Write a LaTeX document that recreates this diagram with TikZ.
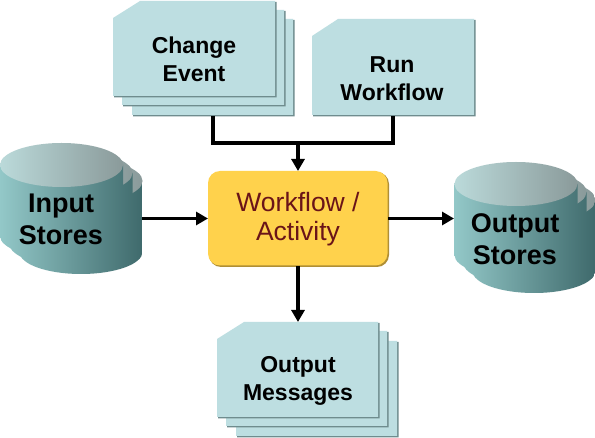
\documentclass[tikz,border=0pt]{standalone}
\usepackage{fontspec}
\setmainfont{Liberation Sans}
\usetikzlibrary{arrows.meta}
\definecolor{cardfill}{HTML}{BDDEE1}
\definecolor{cardedge}{HTML}{6F8C8E}
\definecolor{goldfill}{HTML}{FFD24C}
\definecolor{goldedge}{HTML}{B08F35}
\definecolor{wftext}{HTML}{6A1418}
\definecolor{cylA}{HTML}{93C8C8}
\definecolor{cylB}{HTML}{6FA6A6}
\definecolor{cylC}{HTML}{3F6A6C}
\definecolor{topA}{HTML}{BBDADA}
\definecolor{topB}{HTML}{A9C3C3}
\definecolor{topC}{HTML}{8A9A9A}
\tikzset{
  x=1pt,y=-1pt,
  cardshape/.style={fill=cardfill},
  cardshade/.style={fill=cardedge},
  frame/.style={inner sep=0pt,outer sep=0pt,draw=none},
  cardtext/.style={inner sep=0pt,align=center,text=black,font=\fontsize{23}{28.5}\selectfont\bfseries},
  storetext/.style={inner sep=0pt,align=center,text=black,font=\fontsize{27}{32}\selectfont\bfseries},
  wftextstyle/.style={inner sep=0pt,align=center,text=wftext,font=\fontsize{26.5}{29.5}\selectfont},
  link/.style={line width=3.4pt,draw=black},
  linkarrow/.style={link,-{Triangle[length=12pt,width=13pt]}},
}
% card: left, top, right, bottom, cut-x, cut-y
\newcommand{\drawcard}[6]{%
  \fill[cardshade] (#1+1,#2+#6+1) -- (#1+#5+1,#2+1) -- (#3+1.5,#2+1) -- (#3+1.5,#4+1.5) -- (#1+1,#4+1.5) -- cycle;
  \fill[cardshape] (#1,#2+#6) -- (#1+#5,#2) -- (#3,#2) -- (#3,#4) -- (#1,#4) -- cycle;
}
% cylinder: centre x, top centre y, bottom centre y, common shading xmin, xmax
\newcommand{\drawcyl}[5]{%
  \begin{scope}
    \clip (#1-61.5,#2) -- (#1-61.5,#3) arc[start angle=180,end angle=360,x radius=61.5,y radius=-22]
      -- (#1+61.5,#2) -- cycle;
    \path[left color=cylA,middle color=cylB,right color=cylC] (#4,#2-5) rectangle (#5,#3+30);
  \end{scope}
  \path[left color=topA,middle color=topB,right color=topC]
    (#1,#2) ellipse[x radius=61.5,y radius=22];
}
\begin{document}
\begin{tikzpicture}
\useasboundingbox (0,0) rectangle (595,438);
\fill[white] (0,0) rectangle (595,438);

% Change Event stack
\drawcard{132}{19}{293}{115}{27}{17}
\drawcard{122}{10}{284}{105}{27}{17}
\drawcard{113}{1}{275}{96}{27}{17}
\node[frame,minimum width=181pt,minimum height=115pt] (changestack) at (203.5,58.5) {};
\node[cardtext] (changelabel) at (194,59.5) {Change\\Event};

% Run Workflow
\drawcard{312}{19}{474}{115}{26}{17}
\node[frame,minimum width=164pt,minimum height=97pt] (runstack) at (393.5,67.5) {};
\node[cardtext] (runlabel) at (392,78.5) {Run\\Workflow};

% Output Messages stack
\drawcard{236}{341}{397}{436}{27}{17}
\drawcard{226}{331}{387}{426}{27}{17}
\drawcard{217}{322}{378}{417}{27}{17}
\node[frame,minimum width=181pt,minimum height=115pt] (msgstack) at (307.5,379.5) {};
\node[cardtext] (msglabel) at (298,381) {Output\\Messages};

% Input Stores
\drawcyl{81}{181}{252}{0}{142}
\drawcyl{71}{173}{244}{0}{142}
\drawcyl{61.5}{165}{236}{0}{142}
\node[frame,minimum width=142pt,minimum height=131pt] (inputstack) at (71,208.5) {};
\node[storetext] (inputlabel) at (61,219.5) {Input\\Stores};

% Output Stores
\drawcyl{534}{200}{271}{454}{595}
\drawcyl{525}{192}{263}{454}{595}
\drawcyl{516}{184}{255}{454}{595}
\node[frame,minimum width=141pt,minimum height=131pt] (outputstack) at (524.5,227.5) {};
\node[storetext] (outputlabel) at (515,239) {Output\\Stores};

% Workflow
\fill[goldedge,rounded corners=12pt] (209,172) rectangle (389,267);
\fill[goldfill,rounded corners=12pt] (208,171) rectangle (387.5,265.5);
\node[frame,minimum width=180pt,minimum height=95pt] (wf) at (298,218.5) {};
\node[wftextstyle] (wflabel) at (298,219) {Workflow /\\Activity};

% Connectors
\coordinate (join) at (298,143);
\coordinate (changedrop) at (213,143);
\coordinate (rundrop) at (393,143);
\draw[link,line cap=butt,line join=miter] (changedrop |- changestack.south) -- (changedrop) -- (rundrop) -- (rundrop |- runstack.south);
\draw[linkarrow] (join) -- (wf.north);
\draw[linkarrow] (wf.west -| inputstack.east) -- (wf.west);
\draw[linkarrow] (wf.east) -- (wf.east -| outputstack.west);
\draw[linkarrow] (wf.south) -- (wf.south |- msgstack.north);
\end{tikzpicture}
\end{document}
